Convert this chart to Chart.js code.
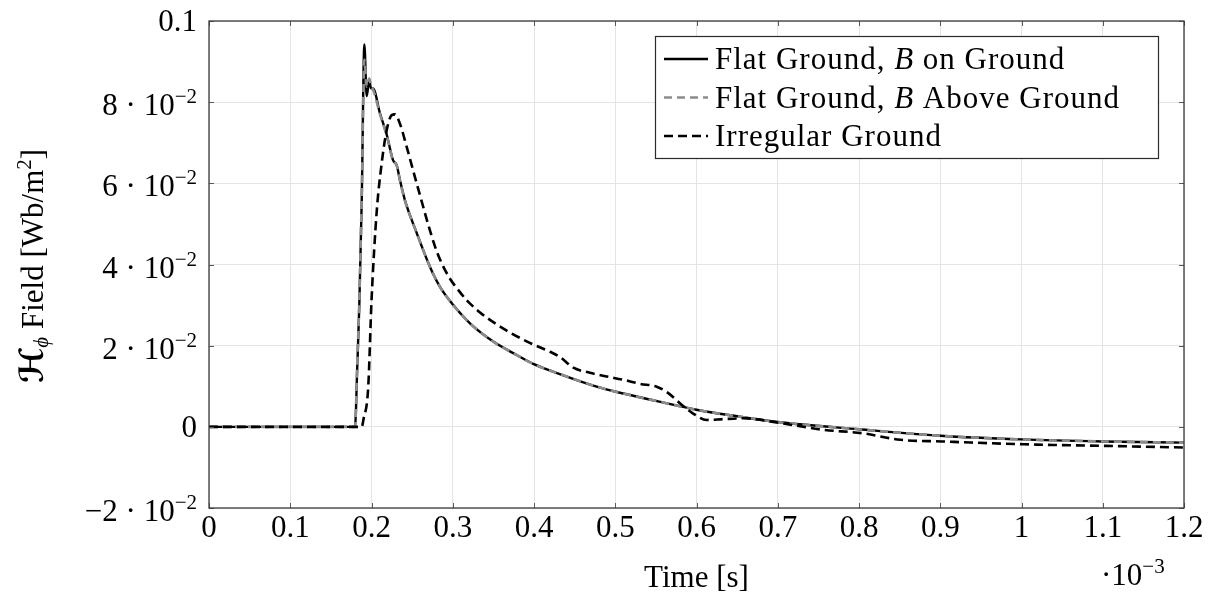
<!DOCTYPE html>
<html>
<head>
<meta charset="utf-8">
<script src="https://cdn.jsdelivr.net/npm/chart.js@4/dist/chart.umd.min.js"></script>
<style>
  html, body { margin: 0; padding: 0; background: #ffffff; }
  canvas { display: block; }
</style>
</head>
<body>
<canvas id="chart" width="1212" height="598"></canvas>
<script>
// Time samples in units of 1e-3 s (the axis carries a ·10^-3 multiplier)
const timeFlat = [0, 0.1797, 0.1825, 0.185, 0.188, 0.1912, 0.1941, 0.1973, 0.1994, 0.2018,
  0.2105, 0.219, 0.2265, 0.231, 0.235, 0.2412, 0.2556, 0.272, 0.2843, 0.3007, 0.3212,
  0.3499, 0.3787, 0.3991, 0.4361, 0.4772, 0.4997, 0.55, 0.6, 0.65, 0.7, 0.8, 0.9, 1.0,
  1.1, 1.2];

// H_phi field [Wb/m^2], flat ground, observation point B on the ground
const flatOnGround = [0, 0, 0.015, 0.030, 0.056, 0.0942, 0.0815, 0.0854, 0.0834, 0.0834,
  0.0772, 0.0718, 0.0657, 0.0645, 0.0608, 0.0558, 0.0478, 0.0394, 0.0345, 0.0300, 0.0255,
  0.0210, 0.0177, 0.0155, 0.0127, 0.0099, 0.0087, 0.0064, 0.0042, 0.0026, 0.0012, -0.0006,
  -0.0022, -0.0031, -0.0036, -0.0039];

// flat ground, observation point B above the ground
const flatAboveGround = [0, 0, 0.016, 0.031, 0.057, 0.0905, 0.0838, 0.0858, 0.0840, 0.0832,
  0.0770, 0.0716, 0.0656, 0.0644, 0.0607, 0.0557, 0.0478, 0.0394, 0.0345, 0.0300, 0.0255,
  0.0210, 0.0177, 0.0155, 0.0127, 0.0099, 0.0087, 0.0064, 0.0042, 0.0026, 0.0012, -0.0006,
  -0.0022, -0.0031, -0.0036, -0.0039];

const timeIrregular = [0, 0.188, 0.190, 0.196, 0.200, 0.2064, 0.2125, 0.2187, 0.2248, 0.229,
  0.235, 0.2433, 0.2556, 0.2782, 0.2864, 0.2966, 0.3049, 0.3172, 0.3335, 0.3499, 0.3664,
  0.3828, 0.3991, 0.4197, 0.432, 0.4484, 0.4689, 0.4895, 0.51, 0.5305, 0.551, 0.5653,
  0.582, 0.595, 0.6125, 0.6326, 0.658, 0.704, 0.7545, 0.805, 0.851, 0.902, 1.003, 1.1046,
  1.2];

// irregular ground
const irregularGround = [0, 0, 0.0017, 0.0099, 0.031, 0.053, 0.0649, 0.0731, 0.0768, 0.0770,
  0.0747, 0.0690, 0.0600, 0.0444, 0.0403, 0.0365, 0.0342, 0.0312, 0.0282, 0.0258, 0.0237,
  0.0219, 0.0203, 0.0185, 0.0172, 0.0146, 0.0133, 0.0124, 0.0116, 0.0106, 0.0099, 0.0083,
  0.0054, 0.0034, 0.0017, 0.0019, 0.0021, 0.0009, -0.0007, -0.0016, -0.0032, -0.0036,
  -0.0043, -0.0047, -0.0051];

const seriesLabels = ['Flat Ground, *B* on Ground', 'Flat Ground, *B* Above Ground', 'Irregular Ground'];

const xTickValues = [0, 0.1, 0.2, 0.3, 0.4, 0.5, 0.6, 0.7, 0.8, 0.9, 1.0, 1.1, 1.2];
const xTickLabels = ['0', '0.1', '0.2', '0.3', '0.4', '0.5', '0.6', '0.7', '0.8', '0.9', '1', '1.1', '1.2'];
const yTickValues = [-0.02, 0, 0.02, 0.04, 0.06, 0.08, 0.1];
const yTickMantissa = ['\u22122', '0', '2', '4', '6', '8', '0.1'];
const yTickExponent = ['\u22122', '', '\u22122', '\u22122', '\u22122', '\u22122', ''];

const SERIF = '"Liberation Serif", "Times New Roman", serif';
const MAIN_SIZE = 31;
const SUP_SIZE = 21;

function pairs(xs, ys) {
  return xs.map((x, i) => ({ x: x, y: ys[i] }));
}

// draws a sequence of [text, font, dy] runs starting at x, returns end x
function drawRuns(ctx, runs, x, y, measureOnly) {
  let cx = x;
  for (const r of runs) {
    ctx.font = r[1];
    if (!measureOnly) ctx.fillText(r[0], cx, y + (r[2] || 0));
    cx += ctx.measureText(r[0]).width;
  }
  return cx;
}

const axesDecor = {
  id: 'axesDecor',
  afterDraw(chart) {
    const ctx = chart.ctx;
    const a = chart.chartArea;
    const xs = chart.scales.x, ys = chart.scales.y;
    ctx.save();

    // inward tick marks on all four sides
    ctx.strokeStyle = '#5a5a5a';
    ctx.lineWidth = 1;
    ctx.beginPath();
    for (const v of xTickValues) {
      const px = Math.round(xs.getPixelForValue(v)) + 0.5;
      ctx.moveTo(px, a.bottom); ctx.lineTo(px, a.bottom - 5);
      ctx.moveTo(px, a.top); ctx.lineTo(px, a.top + 5);
    }
    for (const v of yTickValues) {
      const py = Math.round(ys.getPixelForValue(v)) + 0.5;
      ctx.moveTo(a.left, py); ctx.lineTo(a.left + 5, py);
      ctx.moveTo(a.right, py); ctx.lineTo(a.right - 5, py);
    }
    ctx.stroke();

    // frame
    ctx.strokeStyle = '#3a3a3a';
    ctx.lineWidth = 1.3;
    ctx.strokeRect(a.left, a.top, a.right - a.left, a.bottom - a.top);

    ctx.fillStyle = '#000000';
    ctx.textBaseline = 'alphabetic';
    const mainFont = MAIN_SIZE + 'px ' + SERIF;
    const supFont = SUP_SIZE + 'px ' + SERIF;

    // x tick labels
    ctx.font = mainFont;
    ctx.textAlign = 'center';
    xTickValues.forEach((v, i) => {
      ctx.fillText(xTickLabels[i], xs.getPixelForValue(v), a.bottom + 29);
    });

    // y tick labels, right aligned
    ctx.textAlign = 'left';
    yTickValues.forEach((v, i) => {
      const py = ys.getPixelForValue(v);
      let runs;
      let base;
      if (yTickExponent[i]) {
        runs = [[yTickMantissa[i] + ' \u00b7 10', mainFont, 0], [yTickExponent[i], supFont, -12]];
        base = py + 13;
      } else {
        runs = [[yTickMantissa[i], mainFont, 0]];
        base = py + 10;
      }
      const w = drawRuns(ctx, runs, 0, 0, true);
      drawRuns(ctx, runs, 197 - w, base, false);
    });

    // x axis title and multiplier
    ctx.font = mainFont;
    ctx.textAlign = 'center';
    ctx.fillText('Time [s]', (a.left + a.right) / 2, 587);
    ctx.textAlign = 'left';
    drawRuns(ctx, [['\u00b710', mainFont, 0], ['\u22123', supFont, -12]], 1101, 585, false);

    // y axis title, rotated
    ctx.save();
    ctx.translate(43, 266);
    ctx.rotate(-Math.PI / 2);
    const titleRuns = [
      ['\u210b', 'italic bold ' + (MAIN_SIZE + 2) + 'px "DejaVu Serif", "DejaVu Sans", serif', 0],
      ['\u03d5', 'italic ' + SUP_SIZE + 'px ' + SERIF, 5],
      [' Field [Wb/m', mainFont, 0],
      ['2', supFont, -12],
      [']', mainFont, 0]
    ];
    const tw = drawRuns(ctx, titleRuns, 0, 0, true);
    drawRuns(ctx, titleRuns, -tw / 2, 0, false);
    ctx.restore();

    // legend box
    const lx = 655, ly = 36, lw = 503, lh = 122;
    ctx.fillStyle = '#ffffff';
    ctx.fillRect(lx, ly, lw, lh);
    ctx.strokeStyle = '#2a2a2a';
    ctx.lineWidth = 1.2;
    ctx.strokeRect(lx + 0.5, ly + 0.5, lw, lh);
    chart.data.datasets.forEach((ds, i) => {
      const rowY = 59 + i * 38.5;
      ctx.save();
      ctx.strokeStyle = ds.borderColor;
      ctx.lineWidth = ds.borderWidth;
      ctx.setLineDash(ds.borderDash || []);
      ctx.beginPath();
      ctx.moveTo(664, rowY);
      ctx.lineTo(708, rowY);
      ctx.stroke();
      ctx.restore();
      ctx.fillStyle = '#000000';
      ctx.letterSpacing = '1px';
      const parts = seriesLabels[i].split('*');
      const runs = parts.map((p, k) => [p, (k % 2 ? 'italic ' : '') + mainFont, 0]);
      drawRuns(ctx, runs, 715, rowY + 10, false);
      ctx.letterSpacing = '0px';
    });

    ctx.restore();
  }
};

new Chart(document.getElementById('chart'), {
  type: 'line',
  data: {
    datasets: [
      {
        label: 'Flat Ground, B on Ground',
        data: pairs(timeFlat, flatOnGround),
        borderColor: '#000000',
        borderWidth: 2.4,
        order: 3
      },
      {
        label: 'Flat Ground, B Above Ground',
        data: pairs(timeFlat, flatAboveGround),
        borderColor: '#8c8c8c',
        borderWidth: 2.6,
        borderDash: [8, 5],
        order: 2
      },
      {
        label: 'Irregular Ground',
        data: pairs(timeIrregular, irregularGround),
        borderColor: '#000000',
        borderWidth: 2.6,
        borderDash: [9, 5],
        order: 1
      }
    ]
  },
  options: {
    responsive: false,
    animation: false,
    events: [],
    layout: { padding: { left: 0, right: 28, top: 21, bottom: 0 } },
    elements: {
      point: { radius: 0 },
      line: { cubicInterpolationMode: 'monotone', borderCapStyle: 'butt', borderJoinStyle: 'round' }
    },
    scales: {
      x: {
        type: 'linear',
        min: 0,
        max: 1.2,
        ticks: { stepSize: 0.1, display: false },
        grid: { color: '#e4e4e4', lineWidth: 1, drawTicks: false },
        border: { display: false },
        afterFit(scale) { scale.height = 90; }
      },
      y: {
        type: 'linear',
        min: -0.02,
        max: 0.1,
        ticks: { stepSize: 0.02, display: false },
        grid: { color: '#e4e4e4', lineWidth: 1, drawTicks: false },
        border: { display: false },
        afterFit(scale) { scale.width = 209; }
      }
    },
    plugins: {
      legend: { display: false },
      tooltip: { enabled: false }
    }
  },
  plugins: [axesDecor]
});
</script>
</body>
</html>
